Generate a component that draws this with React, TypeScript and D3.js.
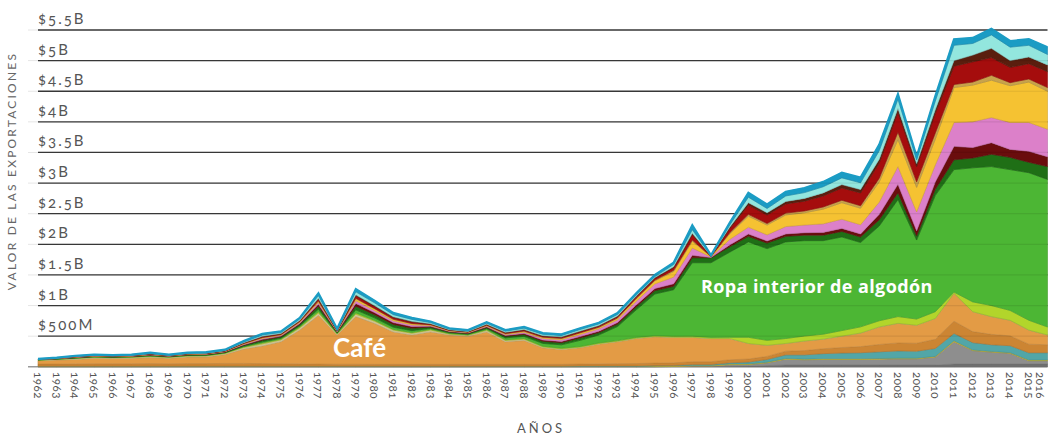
import React from 'react';
import * as d3 from 'd3';

const years = [1962,1963,1964,1965,1966,1967,1968,1969,1970,1971,1972,1973,1974,1975,1976,1977,1978,1979,1980,1981,1982,1983,1984,1985,1986,1987,1988,1989,1990,1991,1992,1993,1994,1995,1996,1997,1998,1999,2000,2001,2002,2003,2004,2005,2006,2007,2008,2009,2010,2011,2012,2013,2014,2015,2016];

// values in millions of USD
const grayDark = [3,3,3,3,3,3,3,3,3,3, 3,3,3,3,3,3,3,3,3,3, 3,3,3,3,3,3,3,3,3,3, 3,3,3,3,5,8,8,10,12,20, 30,30,30,30,30,30,30,30,30,45, 45,45,45,45,45];
const grayLight = [0,0,0,0,0,0,0,0,0,0, 0,0,0,0,0,0,0,0,0,0, 0,0,0,0,0,0,0,0,0,0, 0,0,0,0,0,5,5,25,25,45, 95,85,90,90,90,95,100,100,130,365, 220,195,175,55,55];
const yellow = [2,2,2,2,2,2,2,2,2,2, 2,2,2,2,2,2,2,2,2,2, 2,2,2,2,2,2,2,2,2,2, 2,2,2,10,10,10,10,10,10,10, 10,10,10,10,10,10,10,10,10,15, 10,10,10,10,10];
const teal = [5,5,5,5,5,5,5,5,5,5, 5,5,5,5,5,5,5,5,5,5, 5,5,5,5,5,5,5,5,5,8, 8,8,8,8,8,15,15,20,30,45, 60,70,85,95,100,110,120,115,130,120, 120,110,115,120,120];
const orangeDark = [35,35,38,40,40,40,42,40,42,42, 45,45,42,40,38,35,32,32,30,30, 30,30,30,30,30,30,30,30,30,32, 35,38,40,40,42,45,45,50,50,50, 60,70,80,90,100,120,130,130,150,200, 180,170,160,140,130];
const cafe = [55,65,72,90,85,90,98,90,108,108, 145,235,288,360,552,795,478,778,670,530, 480,530,480,460,530,370,390,270,240,265, 322,359,407,429,415,397,377,345,253,180, 125,155,155,185,220,285,320,295,340,455, 325,290,255,230,160];
const beige = [8,10,14,14,13,14,16,14,15,16, 16,25,35,30,35,40,15,40,35,30, 28,30,15,15,25,20,20,15,12,10, 8,6,5,4,3,2,2,2,2,2, 2,2,2,2,2,2,0,0,0,0, 0,0,0,0,0];
const yellowGreen = [3,4,6,6,5,6,8,6,7,8, 8,10,15,12,15,20,8,20,15,12, 12,12,8,8,12,12,12,12,12,12, 12,12,15,15,15,18,18,20,100,80, 80,80,80,90,100,100,110,100,110,20, 160,180,160,160,130];
const green = [2,3,4,4,4,4,6,4,5,6, 6,10,18,15,18,40,10,50,40,35, 30,15,12,10,15,30,35,45,55,100, 130,230,450,680,760,1200,1220,1390,1558,1498, 1578,1558,1528,1528,1378,1548,1910,1290,1900,2000, 2190,2270,2300,2410,2410];
const darkGreen = [3,4,6,6,6,6,9,6,8,9, 9,15,25,22,25,50,12,60,50,45, 40,22,15,12,20,25,30,35,35,40, 40,40,50,55,57,80,80,88,90,90, 90,90,90,90,90,100,110,70,100,160, 160,200,200,170,210];
const maroon = [2,3,4,4,4,4,6,4,5,6, 6,10,15,13,15,30,7,45,35,30, 27,13,8,7,12,15,18,20,20,22, 22,25,30,35,40,40,5,30,40,35, 40,40,45,50,50,90,140,80,120,220, 170,190,130,180,160];
const pink = [2,2,4,4,3,4,5,4,4,5, 5,10,15,13,15,30,7,45,35,30, 27,13,8,7,12,15,20,25,28,35, 38,45,60,75,110,120,8,90,110,100, 120,125,140,150,150,200,290,310,280,390, 420,410,440,470,450];
const gold = [1,2,3,3,3,3,4,3,4,4, 4,8,12,10,12,20,5,30,25,20, 18,10,6,5,10,12,15,18,18,22, 22,25,40,50,90,110,7,90,180,160, 190,200,240,270,270,330,440,400,420,570, 600,610,600,660,620];
const tan = [0,0,1,1,1,1,1,1,1,1, 1,2,3,3,3,8,2,10,8,7, 6,3,2,2,3,4,5,5,5,6, 6,7,10,12,20,20,2,20,30,25, 30,30,35,40,40,60,120,90,100,50, 50,80,50,50,60];
const red = [2,3,4,4,4,4,6,4,5,6, 6,10,15,13,15,30,7,40,35,28, 25,13,8,7,12,15,18,18,18,20, 20,22,25,30,45,90,5,70,150,140, 150,160,180,200,210,250,330,250,320,300, 330,290,250,250,260];
const brown = [0,0,1,1,1,1,2,1,1,2, 2,3,5,4,5,10,2,15,12,10, 9,4,3,2,4,5,6,6,6,7, 7,8,10,12,15,20,2,20,40,35, 40,45,50,55,55,60,60,50,60,90, 110,150,110,110,110];
const cyan = [2,3,5,5,4,5,7,5,6,7, 7,12,22,17,22,45,12,50,45,35, 32,17,12,12,17,20,22,22,22,25, 25,25,20,15,35,60,5,35,90,70, 90,95,100,110,110,140,150,60,140,250, 190,220,220,190,170];
const blue = [5,6,8,8,7,8,10,8,9,10, 10,15,20,18,20,37,13,45,35,28, 26,18,13,13,18,17,19,19,19,21, 20,25,25,27,30,70,6,35,70,65, 70,75,80,85,85,100,80,50,80,100, 90,100,100,100,120];

const yTickValues = [500, 1000, 1500, 2000, 2500, 3000, 3500, 4000, 4500, 5000, 5500];
const yTickLabels = ['$500M', '$1B', '$1.5B', '$2B', '$2.5B', '$3B', '$3.5B', '$4B', '$4.5B', '$5B', '$5.5B'];

const seriesList: [string, number[], string][] = [
  ['grayDark', grayDark, '#6f6f6f'],
  ['grayLight', grayLight, '#8e8e8e'],
  ['yellow', yellow, '#e3c11e'],
  ['teal', teal, '#52a6a7'],
  ['orangeDark', orangeDark, '#cc8533'],
  ['cafe', cafe, '#e39b45'],
  ['beige', beige, '#d3c592'],
  ['yellowGreen', yellowGreen, '#b2d52b'],
  ['green', green, '#4cb634'],
  ['darkGreen', darkGreen, '#1f6f16'],
  ['maroon', maroon, '#6a0d0d'],
  ['pink', pink, '#dc80c9'],
  ['gold', gold, '#f5c232'],
  ['tan', tan, '#c8a34b'],
  ['red', red, '#a50d0d'],
  ['brown', brown, '#5a1e0e'],
  ['cyan', cyan, '#93e6de'],
  ['blue', blue, '#1b9cc4'],
];

const W = 1049;
const H = 435;
const FONT = 'Lato, "Open Sans", sans-serif';

export default function App() {
  const x = d3.scaleLinear().domain([1962, 2016]).range([38, 1047.5]);
  const y = d3.scaleLinear().domain([0, 5500]).range([366.8, 30]);

  const keys = seriesList.map(s => s[0]);
  const table = years.map((yr, i) => {
    const row: any = { year: yr };
    seriesList.forEach(([k, arr]) => { row[k] = arr[i]; });
    return row;
  });
  const stacked = d3.stack<any>().keys(keys)(table);
  const area = d3.area<any>()
    .x((d: any) => x(d.data.year))
    .y0((d: any) => y(d[0]))
    .y1((d: any) => y(d[1]));
  const topLine = d3.line<any>()
    .x((d: any) => x(d.data.year))
    .y((d: any) => y(d[1]));

  return (
    <svg width={W} height={H} style={{ position: 'absolute', left: 0, top: 0, display: 'block', background: '#fff' }}>
      {yTickValues.map((v, i) => (
        <g key={'g' + i}>
          <line x1={28} x2={38} y1={y(v)} y2={y(v)} stroke="#e6e6e6" strokeWidth={1} />
          <line x1={38} x2={1047.5} y1={y(v)} y2={y(v)} stroke="#3c3c3c" strokeWidth={1.3} />
          <text x={38} y={y(v) - 6} fontFamily={FONT} fontSize={15} fill="#555" letterSpacing={2}
            style={{ fontVariantNumeric: 'oldstyle-nums' }}>{yTickLabels[i]}</text>
        </g>
      ))}
      <line x1={28} x2={1047.5} y1={y(0)} y2={y(0)} stroke="#999" strokeWidth={1.5} />

      {stacked.map((layer, i) => {
        const fill = seriesList[i][2];
        const stroke = d3.color(fill)!.darker(0.45).formatHex();
        return (
          <path key={layer.key} d={area(layer as any) || ''} fill={fill} stroke={stroke} strokeWidth={0.6} />
        );
      })}
      <path d={topLine(stacked[stacked.length - 1] as any) || ''} fill="none" stroke="#1b9cc4" strokeWidth={2.2} />

      {yTickValues.map((v, i) => (
        <line key={'o' + i} x1={38} x2={1047.5} y1={y(v)} y2={y(v)} stroke="#000" strokeOpacity={0.08} strokeWidth={1.2} />
      ))}

      <text x={333} y={357} fontFamily={FONT} fontWeight={700} fontSize={26} fill="#fff">Café</text>
      <text x={701} y={293} fontFamily='"Open Sans", Lato, sans-serif' fontWeight={700} fontSize={18} letterSpacing={0.4} fill="#fff">Ropa interior de algodón</text>

      {years.map(yr => (
        <text key={yr} transform={`translate(${Math.min(x(yr), 1040)},372) rotate(90)`} dy="0.35em" fontFamily={FONT} fontSize={11.5}
          letterSpacing={0.5} fill="#555" style={{ fontVariantNumeric: 'oldstyle-nums' }}>{yr}</text>
      ))}

      <text transform="translate(16,171) rotate(-90)" textAnchor="middle" fontFamily={FONT} fontSize={12}
        fill="#666" letterSpacing={2.2}>VALOR DE LAS EXPORTACIONES</text>
      <text x={541} y={433} textAnchor="middle" fontFamily={FONT} fontSize={13} fill="#555" letterSpacing={3}>AÑOS</text>
    </svg>
  );
}
